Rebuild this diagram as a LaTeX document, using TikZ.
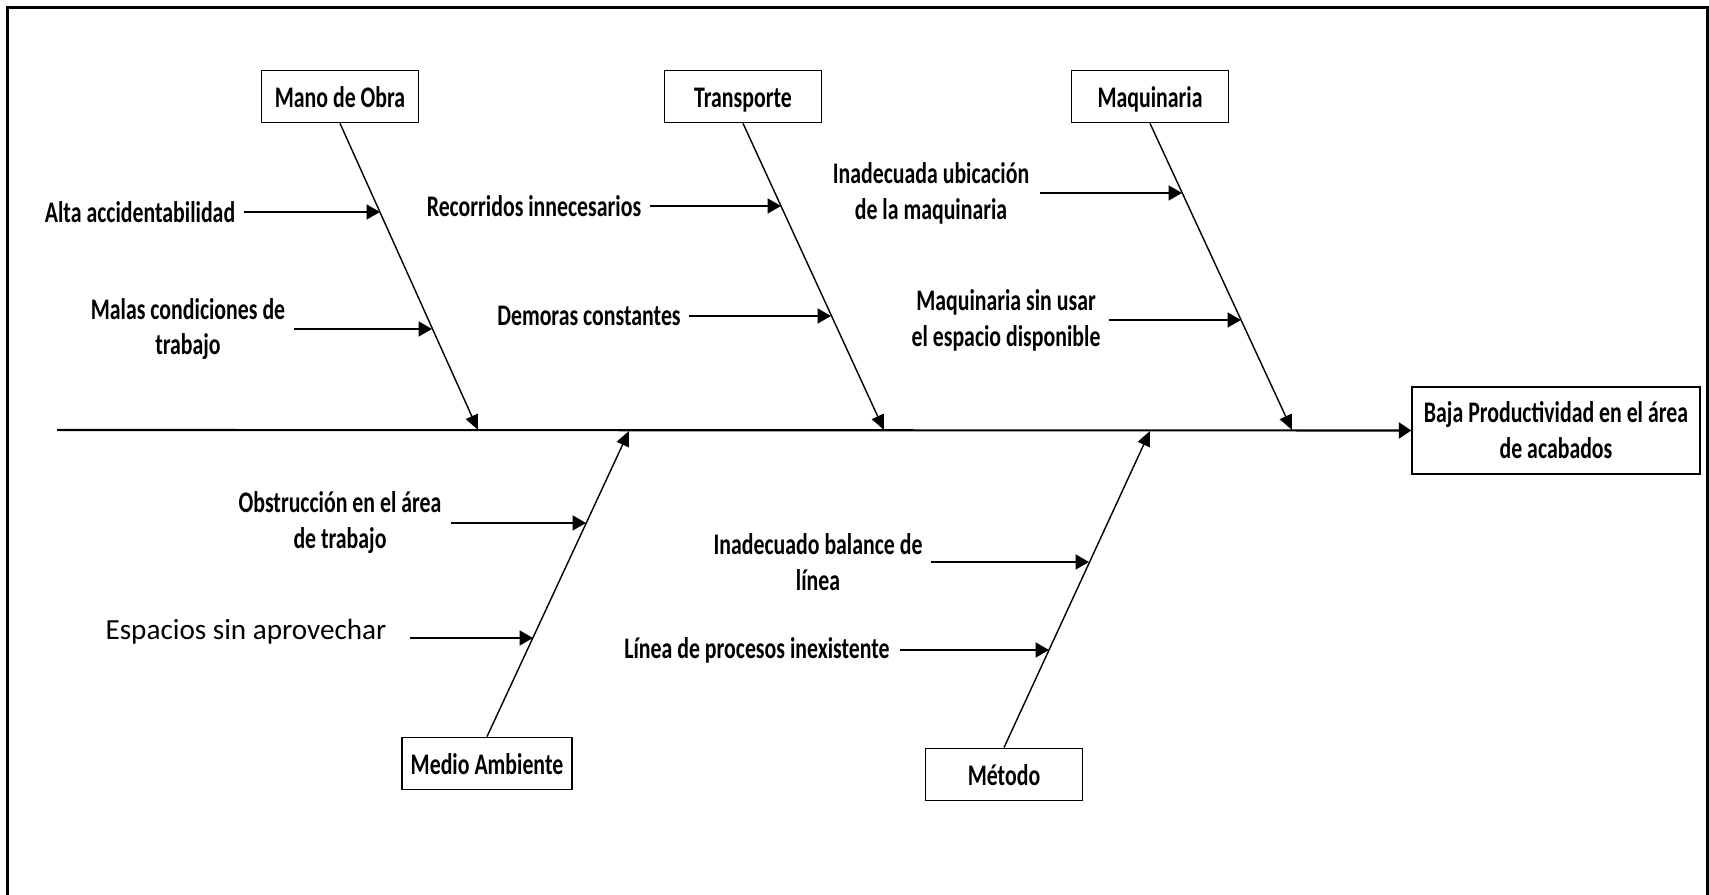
\documentclass[tikz,border=0pt]{standalone}
\usepackage{fontspec}
\setmainfont{Carlito}
\newfontfamily\condbold{Carlito}[FakeStretch=0.73]
\usetikzlibrary{arrows.meta}
\newcommand{\lblfont}{\condbold\bfseries\fontsize{8.5}{10.2}\selectfont}
\newcommand{\plainfont}{\fontsize{8.3}{10.2}\selectfont}
\tikzset{
  catbox/.style={draw, line width=0.5pt, inner sep=0pt, font=\lblfont,
    minimum width=15.7mm, minimum height=5.2mm, text height=0.65em, text depth=0pt},
  cause/.style={inner sep=0pt, align=center, font=\lblfont},
  bone/.style={line width=0.4pt, -{Triangle[length=1.5mm,width=1.3mm]}},
  twig/.style={line width=0.55pt, -{Triangle[length=1.35mm,width=1.5mm]}},
  spine/.style={line width=0.6pt, -{Triangle[length=1.25mm,width=1.6mm]}}
}
\begin{document}
\begin{tikzpicture}[x=0.1mm, y=-0.1mm]
\useasboundingbox (0,0) rectangle (1709,895);
\clip (0,0) rectangle (1709,895);
% outer frame, open at the bottom edge of the page
\draw[line width=0.36mm] (7.5,900) -- (7.5,7.5) -- (1707.5,7.5) -- (1707.5,900);

% effect box and spine
\node[draw, line width=0.5pt, minimum width=28.2mm, minimum height=8.7mm,
  align=center, font=\lblfont] (effect) at (1556,430.5)
  {Baja Productividad en el área\\de acabados};
\coordinate (tail) at (57,430);
\draw[spine] (tail) -- (effect.west);

% spine junctions
\coordinate (jmano) at (478,430);
\coordinate (jtrans) at (884,430);
\coordinate (jmaq) at (1292,430);
\coordinate (jmedio) at (629,431);
\coordinate (jmetodo) at (1150,431);

% category boxes
\node[catbox] (mano) at (340,96.5) {Mano de Obra};
\node[catbox] (trans) at (743,96.5) {Transporte};
\node[catbox] (maq) at (1150,96.5) {Maquinaria};
\node[catbox, minimum width=17.0mm] (medio) at (487,763.5) {Medio Ambiente};
\node[catbox] (metodo) at (1004,774.5) {Método};

% main bones
\draw[bone] (mano.south) -- (jmano);
\draw[bone] (trans.south) -- (jtrans);
\draw[bone] (maq.south) -- (jmaq);
\draw[bone] (medio.north) -- (jmedio);
\draw[bone] (metodo.north) -- (jmetodo);

% causes: Mano de Obra
\node[cause] (alta) at (140,212) {Alta accidentabilidad};
\coordinate (alta0) at (244,212);
\coordinate (alta1) at (380,212);
\draw[twig] (alta0) -- (alta1);
\node[cause] (malas) at (188,329) {Malas condiciones de\\trabajo};
\coordinate (malas0) at (294,329);
\coordinate (malas1) at (432,329);
\draw[twig] (malas0) -- (malas1);

% causes: Transporte
\node[cause] (recor) at (534,206) {Recorridos innecesarios};
\coordinate (recor0) at (650,206);
\coordinate (recor1) at (781,206);
\draw[twig] (recor0) -- (recor1);
\node[cause] (demor) at (589,316) {Demoras constantes};
\coordinate (demor0) at (689,316);
\coordinate (demor1) at (831,316);
\draw[twig] (demor0) -- (demor1);

% causes: Maquinaria
\node[cause] (ubic) at (931,193) {Inadecuada ubicación\\de la maquinaria};
\coordinate (ubic0) at (1040,193);
\coordinate (ubic1) at (1182,193);
\draw[twig] (ubic0) -- (ubic1);
\node[cause] (sinuso) at (1006,320.5) {Maquinaria sin usar\\el espacio disponible};
\coordinate (sinuso0) at (1109,320);
\coordinate (sinuso1) at (1241,320);
\draw[twig] (sinuso0) -- (sinuso1);

% causes: Medio Ambiente
\node[cause] (obstr) at (340,522.5) {Obstrucción en el área\\de trabajo};
\coordinate (obstr0) at (451,523);
\coordinate (obstr1) at (586,523);
\draw[twig] (obstr0) -- (obstr1);
\node[inner sep=0pt, font=\plainfont] (espac) at (246,632) {Espacios sin aprovechar};
\coordinate (espac0) at (410,638);
\coordinate (espac1) at (533,638);
\draw[twig] (espac0) -- (espac1);

% causes: Método
\node[cause] (balan) at (818,562) {Inadecuado balance de\\línea};
\coordinate (balan0) at (931,562);
\coordinate (balan1) at (1089,562);
\draw[twig] (balan0) -- (balan1);
\node[cause] (proc) at (757,650) {Línea de procesos inexistente};
\coordinate (proc0) at (900,650);
\coordinate (proc1) at (1049,650);
\draw[twig] (proc0) -- (proc1);
\end{tikzpicture}
\end{document}
